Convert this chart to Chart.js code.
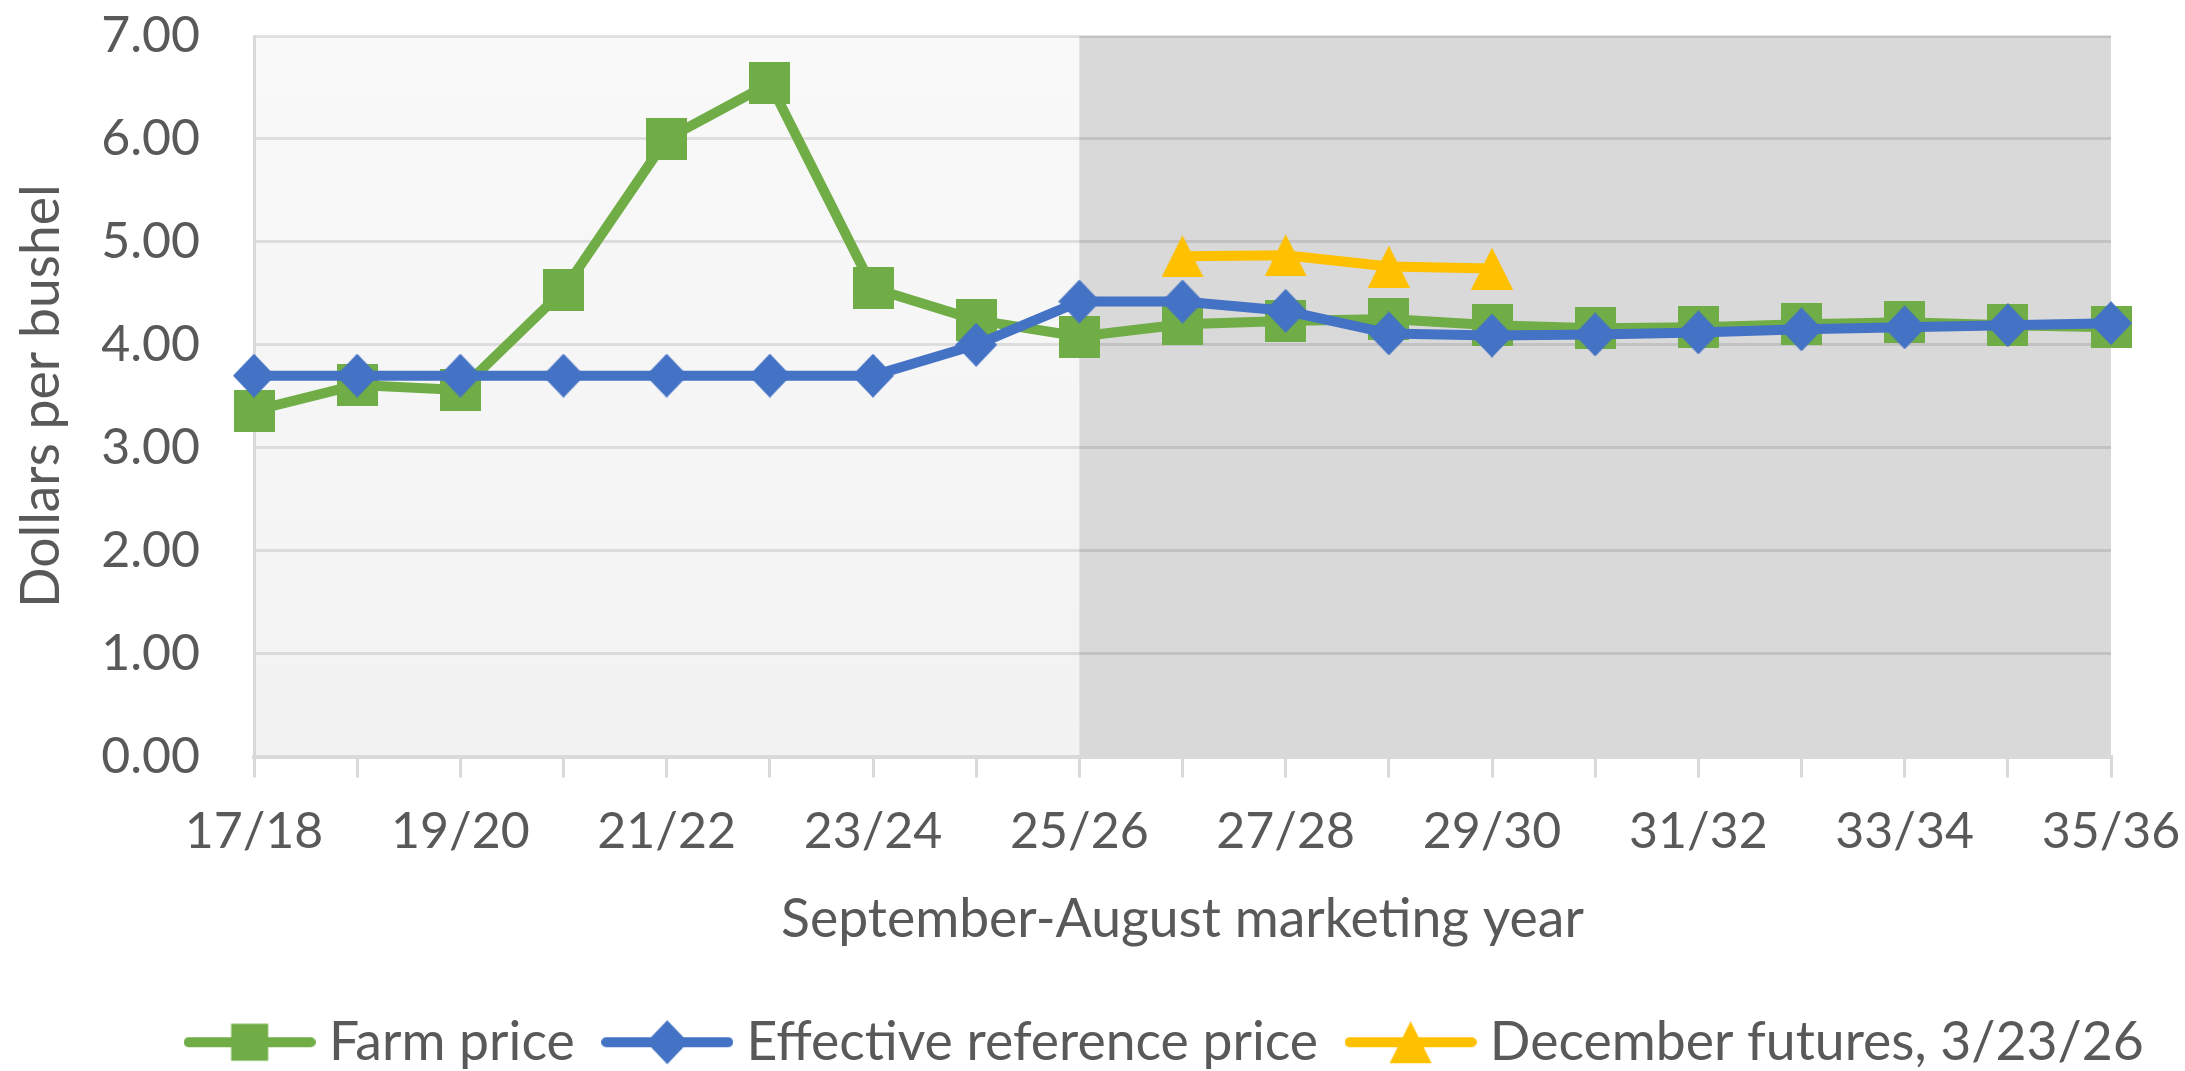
<!DOCTYPE html>
<html>
<head>
<meta charset="utf-8">
<script src="https://cdn.jsdelivr.net/npm/chart.js@4/dist/chart.umd.min.js"></script>
<style>
  html, body { margin: 0; padding: 0; background: #fff; }
  canvas { display: block; }
</style>
</head>
<body>
<canvas id="chart" width="2185" height="1071"></canvas>
<script>
// Marketing years (September-August)
const years = ['17/18','18/19','19/20','20/21','21/22','22/23','23/24','24/25','25/26',
               '26/27','27/28','28/29','29/30','30/31','31/32','32/33','33/34','34/35','35/36'];

// Dollars per bushel
const farmPrice = [3.36, 3.61, 3.56, 4.53, 6.00, 6.54, 4.55, 4.24, 4.08,
                   4.20, 4.23, 4.25, 4.19, 4.16, 4.17, 4.20, 4.22, 4.19, 4.17];
const effectiveRefPrice = [3.70, 3.70, 3.70, 3.70, 3.70, 3.70, 3.70, 4.00, 4.42,
                           4.42, 4.33, 4.11, 4.09, 4.10, 4.12, 4.15, 4.17, 4.19, 4.21];
const decemberFutures = [null, null, null, null, null, null, null, null, null,
                         4.86, 4.87, 4.76, 4.74, null, null, null, null, null, null];

const seriesNames = ['Farm price', 'Effective reference price', 'December futures, 3/23/26'];
const projectionStart = '25/26';

const GREEN = '#70ad47', BLUE = '#4472c4', GOLD = '#ffc000';
const TEXT = '#595959';
const FAMILY = 'Lato, "Open Sans", sans-serif';
const TICK_FONT = { family: FAMILY, size: 50 };
const WORD_FONT = { family: FAMILY, size: 53.5 };
const LINE_W = 10;

function drawMarker(ctx, shape, cx, cy, w, h) {
  ctx.beginPath();
  if (shape === 'square') {
    ctx.rect(cx - w / 2, cy - h / 2, w, h);
  } else if (shape === 'diamond') {
    ctx.moveTo(cx, cy - h / 2);
    ctx.lineTo(cx + w / 2, cy);
    ctx.lineTo(cx, cy + h / 2);
    ctx.lineTo(cx - w / 2, cy);
    ctx.closePath();
  } else {
    ctx.moveTo(cx, cy - h / 2);
    ctx.lineTo(cx + w / 2, cy + h / 2);
    ctx.lineTo(cx - w / 2, cy + h / 2);
    ctx.closePath();
  }
  ctx.fill();
}

const markerSize = { square: [41, 42], diamond: [42, 44], triangle: [42, 42] };

function markerIcon(shape, color) {
  const [w, h] = markerSize[shape];
  const c = document.createElement('canvas');
  c.width = w; c.height = h;
  const ctx = c.getContext('2d');
  ctx.fillStyle = color;
  drawMarker(ctx, shape, w / 2, h / 2, w, h);
  return c;
}

function legendIcon(shape, color) {
  const w = shape === 'square' ? 37 : markerSize[shape][0];
  const h = shape === 'square' ? 37 : markerSize[shape][1];
  const c = document.createElement('canvas');
  c.width = 132; c.height = 46;
  const ctx = c.getContext('2d');
  ctx.strokeStyle = color;
  ctx.lineWidth = LINE_W;
  ctx.lineCap = 'round';
  ctx.beginPath();
  ctx.moveTo(5, 23);
  ctx.lineTo(127, 23);
  ctx.stroke();
  ctx.fillStyle = color;
  drawMarker(ctx, shape, 66, 23, w, h);
  return c;
}

// Light panel for history, darker panel for the projection years
const shading = {
  id: 'shading',
  beforeDraw(chart) {
    const { ctx, chartArea: a, scales: { x } } = chart;
    ctx.save();
    ctx.fillStyle = '#ffffff';
    ctx.fillRect(0, 0, chart.width, chart.height);
    const split = x.getPixelForValue(years.indexOf(projectionStart));
    const g = ctx.createLinearGradient(0, a.top, 0, a.bottom);
    g.addColorStop(0, '#f9f9f9');
    g.addColorStop(1, '#f2f2f2');
    ctx.fillStyle = g;
    ctx.fillRect(a.left, a.top, split - a.left, a.bottom - a.top);
    ctx.fillStyle = '#d9d9d9';
    ctx.fillRect(split, a.top, a.right - split, a.bottom - a.top);
    ctx.restore();
  }
};

// Nudge the legend row into place under the plot
const legendShift = {
  id: 'legendShift',
  afterLayout(chart) {
    const lg = chart.legend;
    if (!lg) return;
    lg.left += 115; lg.right += 115;
    lg.top += 8; lg.bottom += 8;
  }
};

document.fonts.load('50px Lato').finally(() => {
  const icons = [legendIcon('square', GREEN), legendIcon('diamond', BLUE), legendIcon('triangle', GOLD)];

  new Chart(document.getElementById('chart'), {
    type: 'line',
    data: {
      labels: years,
      datasets: [
        {
          label: seriesNames[0], data: farmPrice,
          borderColor: GREEN, backgroundColor: GREEN, borderWidth: LINE_W,
          pointStyle: markerIcon('square', GREEN), pointRadius: 21,
          tension: 0, clip: false, order: 1
        },
        {
          label: seriesNames[1], data: effectiveRefPrice,
          borderColor: BLUE, backgroundColor: BLUE, borderWidth: LINE_W,
          pointStyle: markerIcon('diamond', BLUE), pointRadius: 21,
          tension: 0, clip: false, order: 0
        },
        {
          label: seriesNames[2], data: decemberFutures,
          borderColor: GOLD, backgroundColor: GOLD, borderWidth: LINE_W,
          pointStyle: markerIcon('triangle', GOLD), pointRadius: 21,
          tension: 0, clip: false, spanGaps: false, order: 2
        }
      ]
    },
    options: {
      responsive: false,
      animation: false,
      devicePixelRatio: 1,
      layout: { padding: { top: 36, right: 74, bottom: 0, left: 0 } },
      elements: { line: { borderJoinStyle: 'round', borderCapStyle: 'round' } },
      plugins: {
        tooltip: { enabled: false },
        legend: {
          position: 'bottom',
          labels: {
            usePointStyle: true,
            pointStyleWidth: 105,
            padding: 40,
            color: TEXT,
            font: WORD_FONT,
            sort: (a, b) => a.datasetIndex - b.datasetIndex,
            generateLabels(chart) {
              const items = Chart.defaults.plugins.legend.labels.generateLabels(chart);
              items.forEach(it => { it.pointStyle = icons[it.datasetIndex]; });
              return items;
            }
          }
        }
      },
      scales: {
        x: {
          ticks: {
            autoSkip: false, maxRotation: 0, minRotation: 0,
            callback: (v, i) => (i % 2 === 0 ? years[i] : ''),
            padding: 0, color: TEXT,
            font: { family: FAMILY, size: 50, lineHeight: 2.16 }
          },
          grid: { drawOnChartArea: false, drawTicks: true, tickLength: 21, color: '#d9d9d9', lineWidth: 3 },
          border: { display: true, color: '#d9d9d9', width: 4 },
          title: {
            display: true, text: 'September-August marketing year',
            color: TEXT, font: WORD_FONT, padding: { top: 0, bottom: 16 }
          },
          afterFit(scale) { scale.height = 211; }
        },
        y: {
          min: 0, max: 7,
          ticks: { stepSize: 1, callback: v => Number(v).toFixed(2), padding: 0, color: TEXT, font: TICK_FONT },
          grid: {
            color: 'rgba(0,0,0,0.1)', lineWidth: 3,
            drawTicks: true, tickLength: 54, tickColor: 'rgba(0,0,0,0)'
          },
          border: { display: true, color: '#d9d9d9', width: 3 },
          title: {
            display: true, text: 'Dollars per bushel',
            color: TEXT, font: WORD_FONT, padding: { top: 10, bottom: 0 }
          },
          afterFit(scale) { scale.width = 254; }
        }
      }
    },
    plugins: [shading, legendShift]
  });
});
</script>
</body>
</html>
